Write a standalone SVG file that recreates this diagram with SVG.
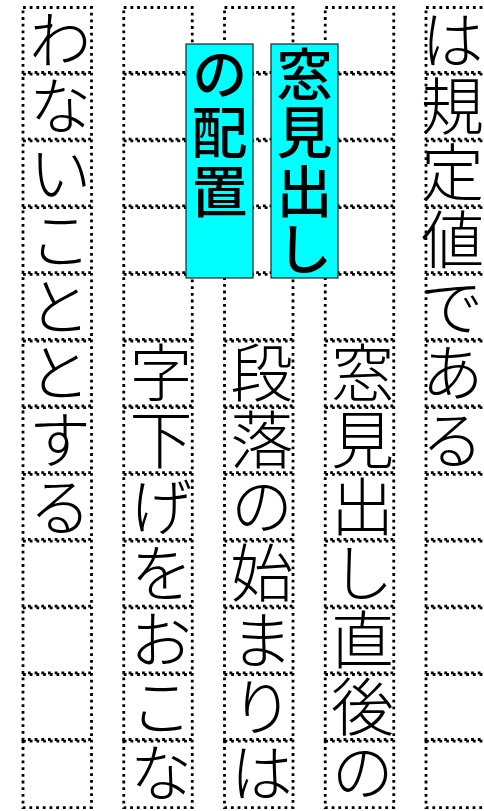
<svg xmlns="http://www.w3.org/2000/svg" xmlns:xlink="http://www.w3.org/1999/xlink" width="484" height="811" viewBox="0 0 484 811">
<style>
.cell{fill:none;stroke:#000;stroke-width:2.8;stroke-dasharray:2.8 3.9}
.t{font-family:"Noto Sans CJK JP","Noto Sans CJK SC",sans-serif;font-size:63px;letter-spacing:3.7px;fill:#000;font-weight:300;writing-mode:vertical-rl}
.hb{fill:#00ffff;stroke:#222;stroke-width:1.2}
.ht{font-family:"Noto Sans CJK JP","Noto Sans CJK SC",sans-serif;font-size:56px;letter-spacing:2.5px;fill:#000;font-weight:500;writing-mode:vertical-rl}
</style>
<defs>
<g id="colcells">
<rect class="cell" x="0" y="7.5" width="68.5" height="65"/>
<rect class="cell" x="0" y="74.2" width="68.5" height="65"/>
<rect class="cell" x="0" y="140.9" width="68.5" height="65"/>
<rect class="cell" x="0" y="207.6" width="68.5" height="65"/>
<rect class="cell" x="0" y="274.3" width="68.5" height="65"/>
<rect class="cell" x="0" y="341" width="68.5" height="65"/>
<rect class="cell" x="0" y="407.7" width="68.5" height="65"/>
<rect class="cell" x="0" y="474.4" width="68.5" height="65"/>
<rect class="cell" x="0" y="541.1" width="68.5" height="65"/>
<rect class="cell" x="0" y="607.8" width="68.5" height="65"/>
<rect class="cell" x="0" y="674.5" width="68.5" height="65"/>
<rect class="cell" x="0" y="741.2" width="68.5" height="66.5"/>
</g>
</defs>
<rect width="484" height="811" fill="#fff"/>
<g id="grid">
<use xlink:href="#colcells" x="23"/>
<use xlink:href="#colcells" x="123.75"/>
<use xlink:href="#colcells" x="224.5"/>
<use xlink:href="#colcells" x="325.25"/>
<use xlink:href="#colcells" x="426"/>
</g>
<g id="col5">
<text class="t" x="452.5" y="7.3">は規定値である</text>
</g>
<g id="col4">
<text class="t" x="362.5" y="340.8">窓見出し直後の</text>
</g>
<g id="col3">
<text class="t" x="261.75" y="340.8">段落の始まりは</text>
</g>
<g id="col2">
<text class="t" x="161" y="340.8">字下げをおこな</text>
</g>
<g id="col1">
<text class="t" x="60.25" y="7.3">わないこととする</text>
</g>
<g id="label-haichi">
<rect class="hb" x="186" y="44" width="67" height="234"/>
<text class="ht" x="219.5" y="45.25">の配置</text>
</g>
<g id="label-midashi">
<rect class="hb" x="271" y="44" width="67" height="234"/>
<text class="ht" x="304.5" y="45.25">窓見出し</text>
</g>
</svg>
